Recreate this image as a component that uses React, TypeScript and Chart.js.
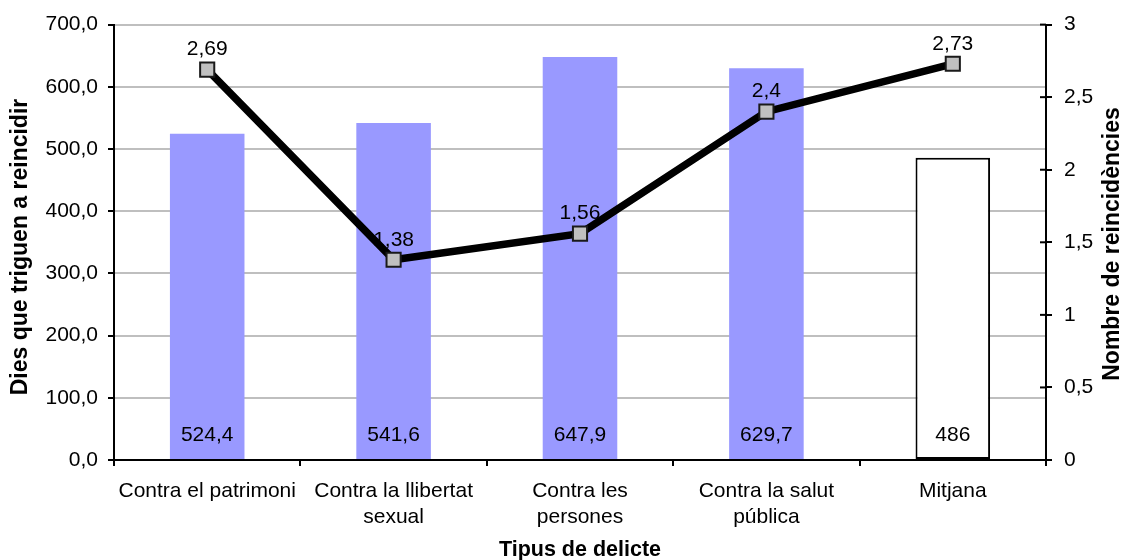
import React, { useEffect, useRef } from "react";
import { Chart, registerables } from "chart.js";

Chart.register(...registerables);

const categories: (string | string[])[] = [
  "Contra el patrimoni",
  ["Contra la llibertat", "sexual"],
  ["Contra les", "persones"],
  ["Contra la salut", "pública"],
  "Mitjana",
];
const dies: number[] = [524.4, 541.6, 647.9, 629.7, 486];
const reincidencies: number[] = [2.69, 1.38, 1.56, 2.4, 2.73];
const barColors: string[] = ["#9999FF", "#9999FF", "#9999FF", "#9999FF", "#FFFFFF"];
const barBorders: string[] = ["#9999FF", "#9999FF", "#9999FF", "#9999FF", "#000000"];
const barBorderWidths: number[] = [0, 0, 0, 0, 2];
const xTitle = "Tipus de delicte";
const yTitle = "Dies que triguen a reincidir";
const y1Title = "Nombre de reincidències";

const FONT = '"Liberation Sans", Arial, sans-serif';
const fmt = (v: number) => String(v).replace(".", ",");

const labelPlugin = {
  id: "customLabels",
  beforeDatasetsDraw(chart: any) {
    const ctx = chart.ctx;
    const ry = chart.scales.y1;
    ctx.save();
    ctx.strokeStyle = "#000";
    ctx.lineWidth = 2;
    ry.ticks.forEach((t: any) => {
      const py = ry.getPixelForValue(t.value);
      ctx.beginPath();
      ctx.moveTo(ry.left - 6, py);
      ctx.lineTo(ry.left, py);
      ctx.stroke();
    });
    ctx.restore();
  },
  afterDatasetsDraw(chart: any) {
    const ctx = chart.ctx;
    ctx.save();
    ctx.font = `21px ${FONT}`;
    ctx.fillStyle = "#000";
    ctx.textAlign = "center";
    ctx.textBaseline = "middle";
    const barMeta = chart.getDatasetMeta(0);
    barMeta.data.forEach((el: any, i: number) => {
      ctx.fillText(fmt(dies[i]), el.x, chart.chartArea.bottom - 25);
    });
    const lineMeta = chart.getDatasetMeta(1);
    lineMeta.data.forEach((el: any, i: number) => {
      ctx.fillText(fmt(reincidencies[i]), el.x, el.y - 20);
    });
    ctx.restore();
  },
  afterDraw(chart: any) {
    const ctx = chart.ctx;
    const ca = chart.chartArea;
    ctx.save();
    ctx.fillStyle = "#000";
    ctx.textAlign = "center";
    ctx.textBaseline = "middle";
    ctx.font = `bold 21.5px ${FONT}`;
    ctx.fillText(xTitle, (ca.left + ca.right) / 2, 550);
    ctx.font = `bold 23px ${FONT}`;
    ctx.save();
    ctx.translate(21, 247);
    ctx.rotate(-Math.PI / 2);
    ctx.fillText(yTitle, 0, 0);
    ctx.restore();
    ctx.save();
    ctx.translate(1113, 244);
    ctx.rotate(-Math.PI / 2);
    ctx.fillText(y1Title, 0, 0);
    ctx.restore();
    ctx.restore();
  },
};

export default function App() {
  const ref = useRef<HTMLCanvasElement | null>(null);
  useEffect(() => {
    if (!ref.current) return;
    const chart = new Chart(ref.current, {
      type: "bar",
      data: {
        labels: categories,
        datasets: [
          {
            type: "bar",
            label: yTitle,
            data: dies,
            backgroundColor: barColors,
            borderColor: barBorders,
            borderWidth: barBorderWidths,
            borderSkipped: false,
            barPercentage: 0.4,
            categoryPercentage: 1.0,
            yAxisID: "y",
            order: 2,
          },
          {
            type: "line",
            label: y1Title,
            data: reincidencies,
            borderColor: "#000000",
            borderWidth: 7.5,
            pointStyle: "rect",
            pointRadius: 10,
            pointBackgroundColor: "#C0C0C0",
            pointBorderColor: "#1a1a1a",
            pointBorderWidth: 2,
            yAxisID: "y1",
            order: 1,
          },
        ],
      },
      options: {
        responsive: false,
        animation: false,
        devicePixelRatio: 1,
        layout: { padding: { top: 22, left: 0, right: 0, bottom: 0 } },
        plugins: {
          legend: { display: false },
          tooltip: { enabled: false },
        },
        scales: {
          x: {
            afterFit: (s: any) => {
              s.height = 100;
            },
            grid: {
              offset: true,
              drawOnChartArea: false,
              drawTicks: true,
              tickLength: 6,
              tickColor: "#000",
              lineWidth: 2,
            },
            border: { display: true, color: "#000", width: 2 },
            ticks: {
              color: "#000",
              font: { family: FONT, size: 21, lineHeight: 1.2 },
              padding: 13,
              maxRotation: 0,
              autoSkip: false,
            },
            title: { display: false },
          },
          y: {
            position: "left",
            min: 0,
            max: 700,
            afterFit: (s: any) => {
              s.width = 114;
            },
            grid: {
              color: "#BFBFBF",
              lineWidth: 2,
              tickColor: "#000",
              tickLength: 6,
            },
            border: { display: true, color: "#000", width: 2 },
            ticks: {
              stepSize: 100,
              color: "#000",
              padding: 10,
              font: { family: FONT, size: 21 },
              callback: (v: any) => Number(v).toFixed(1).replace(".", ","),
            },
            title: { display: false },
          },
          y1: {
            position: "right",
            min: 0,
            max: 3,
            afterFit: (s: any) => {
              s.width = 80;
            },
            grid: {
              drawOnChartArea: false,
              tickColor: "#000",
              tickLength: 6,
              lineWidth: 2,
            },
            border: { display: true, color: "#000", width: 2 },
            ticks: {
              stepSize: 0.5,
              color: "#000",
              padding: 12,
              font: { family: FONT, size: 21 },
              callback: (v: any) => fmt(Number(v)),
            },
            title: { display: false },
          },
        },
      },
      plugins: [labelPlugin],
    } as any);
    return () => chart.destroy();
  }, []);
  return (
    <div style={{ position: "absolute", left: 0, top: 0, width: 1126, height: 560, background: "#fff" }}>
      <canvas ref={ref} width={1126} height={560} style={{ width: 1126, height: 560 }} />
    </div>
  );
}
